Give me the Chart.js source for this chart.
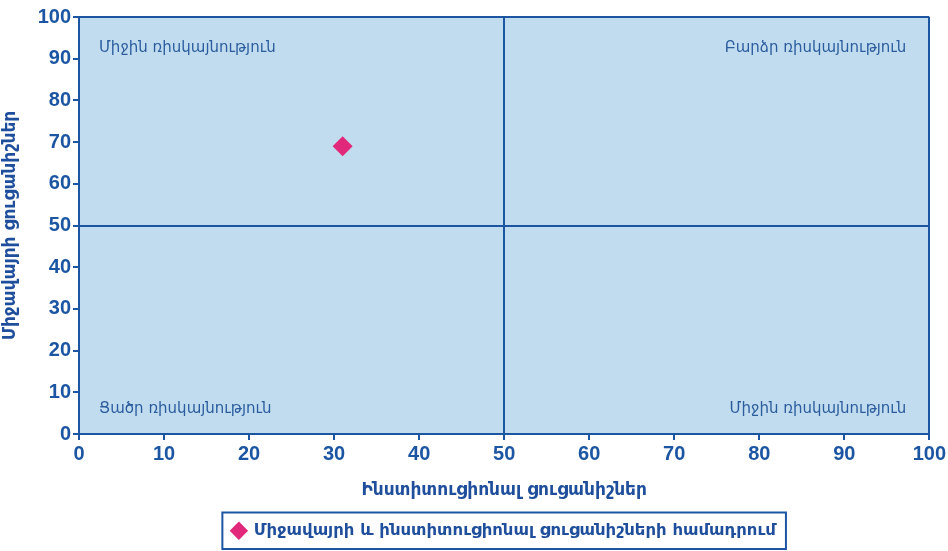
<!DOCTYPE html>
<html>
<head>
<meta charset="utf-8">
<script src="https://cdn.jsdelivr.net/npm/chart.js@4.4.1/dist/chart.umd.min.js"></script>
<style>
  html, body { margin: 0; padding: 0; background: #fff; }
  #wrap { width: 948px; height: 551px; }
</style>
</head>
<body>
<div id="wrap"><canvas id="quadChart" width="948" height="551"></canvas></div>
<script>
// Տվյալներ
const seriesName = "Միջավայրի և ինստիտուցիոնալ ցուցանիշների համադրում";
const institucionalX = [31];
const mijavayriY = [69];
const xTitle = "Ինստիտուցիոնալ ցուցանիշներ";
const yTitle = "Միջավայրի ցուցանիշներ";
const quadLabels = ["Միջին ռիսկայնություն", "Բարձր ռիսկայնություն", "Ցածր ռիսկայնություն", "Միջին ռիսկայնություն"];
const axisMin = 0, axisMax = 100, axisStep = 10, midLine = 50;

const darkBlue = "#1c56a3";
const textBlue = "#1f4f9c";
const fillBlue = "#c1dcee";
const pink = "#e2287a";
const fontFam = "'DejaVu Sans', 'Noto Sans', sans-serif";

// Ֆոն և քառորդների անուններ
const quadPlugin = {
    id: "quadPlugin",
    beforeDraw(chart) {
        const { ctx, chartArea: a } = chart;
        ctx.save();
        ctx.fillStyle = fillBlue;
        ctx.fillRect(a.left, a.top, a.right - a.left, a.bottom - a.top);
        ctx.restore();
    },
    afterDatasetsDraw(chart) {
        const { ctx, chartArea: a } = chart;
        ctx.save();
        ctx.font = "15px " + fontFam;
        ctx.fillStyle = "#2b5d9e";
        ctx.textBaseline = "middle";
        ctx.textAlign = "left";
        ctx.fillText(quadLabels[0], a.left + 20, a.top + 31);
        ctx.fillText(quadLabels[2], a.left + 20, a.bottom - 25);
        ctx.textAlign = "right";
        ctx.fillText(quadLabels[1], a.right - 23, a.top + 31);
        ctx.fillText(quadLabels[3], a.right - 23, a.bottom - 25);
        ctx.restore();
    },
    afterDraw(chart) {
        // շրջանակ լեգենդի շուրջ
        const lg = chart.legend;
        if (!lg || !lg.legendHitBoxes.length) return;
        const hb = lg.legendHitBoxes[0];
        const ctx = chart.ctx;
        ctx.save();
        ctx.strokeStyle = darkBlue;
        ctx.lineWidth = 2;
        ctx.strokeRect(hb.left - 10, hb.top - 10, hb.width + 20, hb.height + 20);
        ctx.restore();
    }
};

const gridColor = c => (c.tick && (c.tick.value === midLine || c.tick.value === axisMax)) ? darkBlue : "rgba(0,0,0,0)";

const tickFont = { family: "'Liberation Sans Narrow', 'Liberation Sans', sans-serif", size: 20, weight: "bold" };

new Chart(document.getElementById("quadChart"), {
    type: "scatter",
    data: {
        datasets: [{
            label: seriesName,
            data: institucionalX.map((x, i) => ({ x, y: mijavayriY[i] })),
            pointStyle: "rectRot",
            pointRadius: 10,
            pointHoverRadius: 10,
            backgroundColor: pink,
            borderColor: pink,
            borderWidth: 0
        }]
    },
    options: {
        responsive: false,
        animation: false,
        layout: { padding: { top: 17, right: 0, left: 0, bottom: 2 } },
        plugins: {
            tooltip: { enabled: false },
            legend: {
                position: "bottom",
                fullSize: false,
                labels: {
                    usePointStyle: true,
                    boxWidth: 13,
                    boxHeight: 13,
                    padding: 12,
                    color: textBlue,
                    font: { family: fontFam, size: 16.5, weight: "bold" }
                }
            }
        },
        scales: {
            x: {
                type: "linear",
                min: axisMin, max: axisMax,
                ticks: { stepSize: axisStep, color: darkBlue, font: tickFont, padding: 2 },
                grid: { color: gridColor, lineWidth: 2, tickColor: darkBlue, tickLength: 6, drawOnChartArea: true },
                border: { display: true, color: darkBlue, width: 2 },
                title: { display: true, text: xTitle, color: textBlue, font: { family: fontFam, size: 17, weight: "bold" }, padding: { top: 12, bottom: 10 } }
            },
            y: {
                type: "linear",
                min: axisMin, max: axisMax,
                ticks: { stepSize: axisStep, color: darkBlue, font: tickFont, padding: 2 },
                grid: { color: gridColor, lineWidth: 2, tickColor: darkBlue, tickLength: 6 },
                border: { display: true, color: darkBlue, width: 2 },
                title: { display: true, text: yTitle, color: textBlue, font: { family: fontFam, size: 17, weight: "bold" }, padding: { top: 0, bottom: 8 } },
                afterFit(scale) { scale.width = 79; }
            }
        }
    },
    plugins: [quadPlugin]
});
</script>
</body>
</html>
